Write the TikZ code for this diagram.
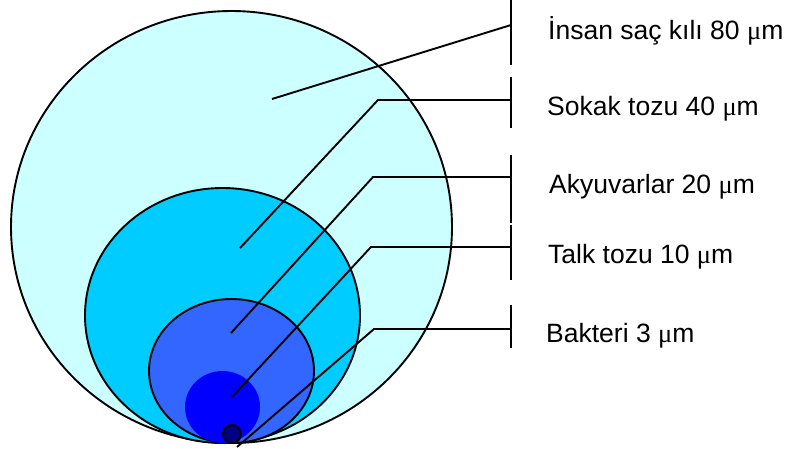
\documentclass[tikz,border=0pt]{standalone}
\usepackage{fontspec}
\setmainfont{Liberation Sans}
\newfontfamily\greekfont{Liberation Serif}
\usetikzlibrary{shapes.geometric}
\newcommand{\micro}{{\greekfont μ}m}
\definecolor{ringA}{HTML}{CCFFFF}
\definecolor{ringB}{HTML}{00CCFF}
\definecolor{ringC}{HTML}{3366FF}
\definecolor{ringD}{HTML}{0000FF}
\definecolor{ringE}{HTML}{000080}
\begin{document}
\begin{tikzpicture}[x=1pt,y=-1pt,
  blob/.style={ellipse,inner sep=0pt,outer sep=0pt,line width=1.9pt},
  lead/.style={line width=1.9pt,line join=miter},
  bar/.style={line width=2pt},
  lbl/.style={anchor=base west,inner sep=0pt,font=\fontsize{26.5}{30}\selectfont}]
\useasboundingbox (0,0) rectangle (786,448);
% nested particle outlines
\node[blob,draw,fill=ringA,minimum width=441pt,minimum height=432pt] (hair) at (231.5,227) {};
\node[blob,draw,fill=ringB,minimum width=275pt,minimum height=255pt] (dust) at (222.5,315.5) {};
\node[blob,draw,fill=ringC,minimum width=165pt,minimum height=144pt] (wbc) at (231.5,371) {};
\node[blob,fill=ringD,minimum width=75pt,minimum height=72pt] (talc) at (222.5,407) {};
\node[blob,draw,fill=ringE,minimum width=18pt,minimum height=18pt] (bact) at (232,434) {};
% leader start points, elbows and bar ends
\coordinate (p1) at (272,99);
\coordinate (p2) at (240,248);
\coordinate (p3) at (231,333);
\coordinate (p4) at (232,397);
\coordinate (p5) at (237,447);
\coordinate (e2) at (378,100);
\coordinate (e3) at (373,177);
\coordinate (e4) at (371,247);
\coordinate (e5) at (374,329);
\coordinate (b1) at (511,25);
\coordinate (b2) at (511,100);
\coordinate (b3) at (511,177);
\coordinate (b4) at (511,247);
\coordinate (b5) at (511,329);
% leaders
\draw[lead] (p1) -- (b1);
\draw[lead] (p2) -- (e2) -- (b2);
\draw[lead] (p3) -- (e3) -- (b3);
\draw[lead] (p4) -- (e4) -- (b4);
\draw[lead] (p5) -- (e5) -- (b5);
% vertical bars
\coordinate (t1) at (511,0);   \coordinate (u1) at (511,65);
\coordinate (t2) at (511,77);  \coordinate (u2) at (511,128);
\coordinate (t3) at (511,155); \coordinate (u3) at (511,223);
\coordinate (t4) at (511,225); \coordinate (u4) at (511,280);
\coordinate (t5) at (511,305); \coordinate (u5) at (511,348);
\draw[bar] (t1) -- (u1);
\draw[bar] (t2) -- (u2);
\draw[bar] (t3) -- (u3);
\draw[bar] (t4) -- (u4);
\draw[bar] (t5) -- (u5);
% labels
\node[lbl] (l1) at (548,39) {İnsan saç kılı 80 \micro};
\node[lbl] (l2) at (547,115) {Sokak tozu 40 \micro};
\node[lbl] (l3) at (549,193) {Akyuvarlar 20 \micro};
\node[lbl] (l4) at (548,263) {Talk tozu 10 \micro};
\node[lbl] (l5) at (546,342) {Bakteri 3 \micro};
\end{tikzpicture}
\end{document}
